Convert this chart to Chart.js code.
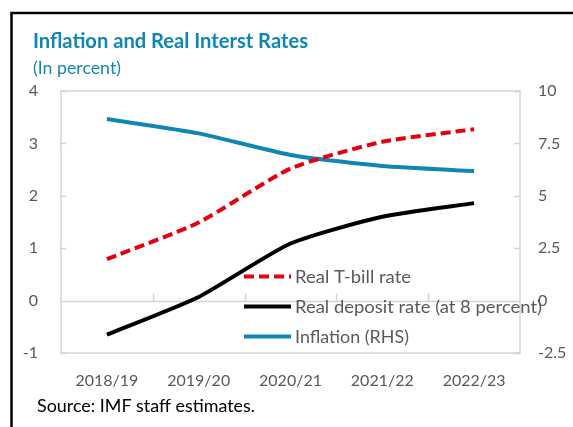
<!DOCTYPE html>
<html><head><meta charset="utf-8">
<script src="https://cdn.jsdelivr.net/npm/chart.js@4.4.0/dist/chart.umd.min.js"></script>
<style>html,body{margin:0;padding:0;background:#fff;overflow:hidden}canvas{display:block}</style>
</head><body>
<canvas id="c" width="573" height="427"></canvas>
<script>
const categories = ['2018/19', '2019/20', '2020/21', '2021/22', '2022/23'];
const realTbill = [0.79, 1.49, 2.52, 3.03, 3.27];
const realDeposit = [-0.65, 0.07, 1.09, 1.60, 1.86];
const inflation = [8.66, 7.98, 6.95, 6.42, 6.18];
const leftTicks = [-1, 0, 1, 2, 3, 4];
const rightTicks = [-2.5, 0, 2.5, 5, 7.5, 10];
const seriesNames = ['Real T-bill rate', 'Real deposit rate (at 8 percent)', 'Inflation (RHS)'];
const titleText = 'Inflation and Real Interst Rates';
const subtitleText = '(In percent)';
const sourceText = 'Source: IMF staff estimates.';

const BLUE = '#0f87b1';
const RED = '#e3000f';
const GRAY_TEXT = '#595959';
const BOX = '#d4d4d4';
const FONT = 'Lato';

function fitText(ctx, text, x, y, width) {
  const w = ctx.measureText(text).width;
  ctx.save();
  ctx.translate(x, y);
  ctx.scale(width / w, 1);
  ctx.fillText(text, 0, 0);
  ctx.restore();
}

const decor = {
  id: 'decor',
  beforeDraw(chart) {
    const ctx = chart.ctx;
    ctx.save();
    ctx.fillStyle = '#fff';
    ctx.fillRect(0, 0, chart.width, chart.height);
    ctx.strokeStyle = '#000';
    ctx.lineWidth = 2.5;
    ctx.beginPath();
    ctx.moveTo(11.5, 427);
    ctx.lineTo(11.5, 13);
    ctx.lineTo(573, 13);
    ctx.stroke();
    ctx.fillStyle = BLUE;
    ctx.textBaseline = 'alphabetic';
    ctx.font = 'bold 21px ' + FONT;
    fitText(ctx, titleText, 33, 48, 275);
    ctx.font = '18px ' + FONT;
    fitText(ctx, subtitleText, 33, 74, 88);
    ctx.fillStyle = '#000';
    ctx.font = '16.5px ' + FONT;
    fitText(ctx, sourceText, 37, 412, 218);
    ctx.restore();
  },
  beforeDatasetsDraw(chart) {
    const ctx = chart.ctx;
    const a = chart.chartArea;
    const x = chart.scales.x, y = chart.scales.y, y2 = chart.scales.y2;
    ctx.save();
    ctx.strokeStyle = BOX;
    ctx.lineWidth = 1.5;
    ctx.strokeRect(a.left, a.top, a.right - a.left, a.bottom - a.top);
    const y0 = Math.round(y.getPixelForValue(0)) + 0.5;
    ctx.beginPath();
    ctx.moveTo(a.left, y0);
    ctx.lineTo(a.right, y0);
    for (let i = 1; i < categories.length; i++) {
      const bx = Math.round((x.getPixelForTick(i - 1) + x.getPixelForTick(i)) / 2) + 0.5;
      ctx.moveTo(bx, y0);
      ctx.lineTo(bx, y0 - 8);
    }
    leftTicks.forEach(v => {
      const py = Math.round(y.getPixelForValue(v)) + 0.5;
      ctx.moveTo(a.left, py);
      ctx.lineTo(a.left + 5, py);
    });
    rightTicks.forEach(v => {
      const py = Math.round(y2.getPixelForValue(v)) + 0.5;
      ctx.moveTo(a.right, py);
      ctx.lineTo(a.right - 6, py);
    });
    ctx.stroke();
    ctx.restore();
  },
  afterDraw(chart) {
    const ctx = chart.ctx;
    const rowsY = [276.5, 306.5, 336.5];
    const widths = [116, 247, 114];
    ctx.save();
    chart.data.datasets.forEach((ds, i) => {
      const ly = rowsY[i];
      ctx.strokeStyle = ds.borderColor;
      ctx.lineWidth = ds.borderWidth;
      ctx.setLineDash(ds.borderDash || []);
      ctx.beginPath();
      ctx.moveTo(244, ly);
      ctx.lineTo(291, ly);
      ctx.stroke();
      ctx.setLineDash([]);
      ctx.fillStyle = GRAY_TEXT;
      ctx.font = '16.5px ' + FONT;
      ctx.textBaseline = 'alphabetic';
      fitText(ctx, ds.label, 295, ly + 6, widths[i]);
    });
    ctx.restore();
  }
};

new Chart(document.getElementById('c'), {
  type: 'line',
  data: {
    labels: categories,
    datasets: [
      { label: seriesNames[0], data: realTbill, yAxisID: 'y', borderColor: RED, borderWidth: 4, borderDash: [10, 5], pointRadius: 0, tension: 0.2, fill: false },
      { label: seriesNames[1], data: realDeposit, yAxisID: 'y', borderColor: '#000000', borderWidth: 4, pointRadius: 0, tension: 0.2, fill: false },
      { label: seriesNames[2], data: inflation, yAxisID: 'y2', borderColor: BLUE, borderWidth: 4, pointRadius: 0, tension: 0.2, fill: false }
    ]
  },
  options: {
    responsive: false,
    animation: false,
    devicePixelRatio: 1,
    layout: { padding: { top: 91, bottom: 0, left: 0, right: 0 } },
    plugins: { legend: { display: false }, title: { display: false }, tooltip: { enabled: false } },
    scales: {
      x: {
        type: 'category',
        offset: true,
        grid: { display: false, drawTicks: false },
        border: { display: false },
        ticks: { color: GRAY_TEXT, font: { family: FONT, size: 16 }, padding: 18, maxRotation: 0 },
        afterFit(s) { s.height = 74; }
      },
      y: {
        position: 'left',
        min: -1, max: 4,
        grid: { display: false, drawTicks: false },
        border: { display: false },
        ticks: { color: GRAY_TEXT, font: { family: FONT, size: 16 }, padding: 23 },
        afterBuildTicks(s) { s.ticks = leftTicks.map(v => ({ value: v })); },
        afterFit(s) { s.width = 61; }
      },
      y2: {
        position: 'right',
        min: -2.5, max: 10,
        grid: { display: false, drawTicks: false },
        border: { display: false },
        ticks: { color: GRAY_TEXT, font: { family: FONT, size: 16 }, padding: 18 },
        afterBuildTicks(s) { s.ticks = rightTicks.map(v => ({ value: v })); },
        afterFit(s) { s.width = 53; }
      }
    }
  },
  plugins: [decor]
});
</script>
</body></html>
